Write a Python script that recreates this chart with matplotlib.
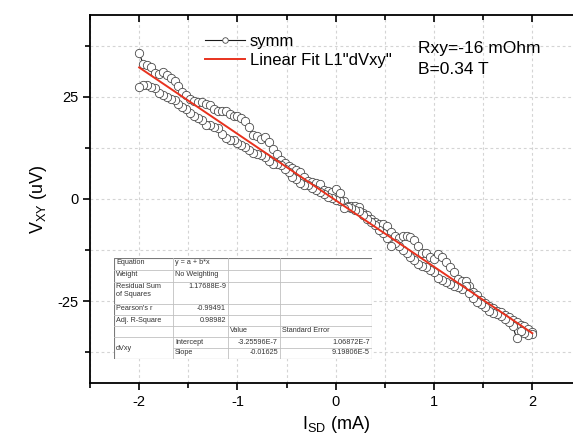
import numpy as np
import matplotlib
matplotlib.use('Agg')
import matplotlib.pyplot as plt
from matplotlib.ticker import MultipleLocator

plt.rcParams['font.family'] = ['Liberation Sans', 'DejaVu Sans']
plt.rcParams['axes.unicode_minus'] = False

# source-drain current sweep (mA)
current_ma = np.linspace(-2, 2, 101)

# symmetrized V_xy (uV), sweep going up in current
vxy_up = [35.8, 33.0, 32.7, 32.4, 30.8, 30.5, 31.1, 30.3, 29.7, 28.9,
          27.7, 26.2, 25.4, 24.4, 23.9, 23.7, 23.8, 23.3, 22.9, 21.9,
          21.5, 21.5, 21.5, 20.9, 20.4, 20.2, 19.8, 19.0, 17.5, 15.7,
          15.3, 14.7, 15.1, 13.9, 12.3, 11.0, 9.6, 8.9, 8.0, 7.6,
          7.1, 6.6, 5.3, 4.3, 4.1, 3.8, 3.7, 2.2, 2.0, 1.8,
          2.5, 1.5, -0.4, -1.7, -1.7, -1.8, -2.0, -3.4, -3.9, -4.9,
          -5.7, -6.2, -6.1, -6.7, -8.0, -9.0, -9.5, -9.0, -9.0, -9.3,
          -10.1, -11.4, -13.1, -13.1, -14.2, -14.6, -13.4, -14.1, -15.4, -16.6,
          -17.9, -19.5, -20.1, -20.1, -21.2, -22.7, -23.5, -24.6, -25.5, -26.1,
          -26.7, -27.4, -27.6, -28.3, -28.8, -29.6, -30.2, -30.9, -31.1, -31.7,
          -32.5]

# sweep coming back (listed in increasing current order)
vxy_down = [27.3, 27.9, 28.0, 27.4, 27.2, 25.9, 25.4, 24.9, 24.5, 24.2,
            23.3, 22.5, 22.1, 21.1, 20.3, 19.8, 19.4, 18.0, 18.0, 17.6,
            17.4, 16.0, 14.9, 14.4, 14.4, 13.7, 13.3, 12.6, 12.0, 11.3,
            11.1, 10.8, 10.2, 9.2, 8.6, 8.5, 8.3, 7.3, 6.7, 5.5,
            4.8, 4.0, 3.4, 3.5, 2.7, 2.3, 1.8, 1.2, 0.4, 0.3,
            -0.3, -0.5, -2.2, -2.0, -2.2, -2.6, -2.9, -3.8, -5.0, -5.6,
            -6.3, -7.5, -8.2, -9.6, -11.6, -10.7, -11.6, -12.5, -13.2, -14.2,
            -15.0, -16.0, -16.4, -16.7, -17.4, -17.8, -19.2, -19.8, -20.2, -20.9,
            -21.2, -21.6, -22.0, -21.3, -22.9, -24.2, -25.2, -25.7, -26.5, -27.3,
            -27.9, -28.2, -28.5, -29.4, -30.2, -31.1, -34.0, -32.3, -32.7, -33.3,
            -33.1]

# linear fit results (SI units, as in the Origin table)
fit_intercept = -3.25596e-7   # V
fit_slope = -0.01625          # V/A
fit_range = [-2, 2]

table_rows = [
    ['Equation', 'y = a + b*x', '', ''],
    ['Weight', 'No Weighting', '', ''],
    ['Residual Sum\nof Squares', '1.17688E-9', '', ''],
    ["Pearson's r", '-0.99491', '', ''],
    ['Adj. R-Square', '0.98982', '', ''],
    ['', '', 'Value', 'Standard Error'],
    ['dVxy', 'Intercept', '-3.25596E-7', '1.06872E-7'],
    ['', 'Slope', '-0.01625', '9.19806E-5'],
]

W, H = 573, 441
fig = plt.figure(figsize=(W / 100, H / 100), dpi=100)
ax = fig.add_axes([90 / W, 1 - 383 / H, 491.5 / W, 368 / H])

x_all = np.concatenate([current_ma, current_ma[::-1]])
y_all = np.concatenate([vxy_up, vxy_down[::-1]])
ax.plot(x_all, y_all, color='#1a1a1a', lw=0.8, marker='o', ms=6,
        mfc='white', mec='#4a4a4a', mew=0.6, label='symm', zorder=3)

xf = np.array(fit_range, dtype=float)
yf = (fit_intercept + fit_slope * xf * 1e-3) * 1e6
ax.plot(xf, yf, color='#e8321e', lw=1.4, label='Linear Fit L1"dVxy"', zorder=4)

ax.set_xlim(-2.5, 2.5)
ax.set_ylim(-45, 45)
ax.xaxis.set_major_locator(MultipleLocator(1))
ax.xaxis.set_minor_locator(MultipleLocator(0.5))
ax.yaxis.set_major_locator(MultipleLocator(25))
ax.yaxis.set_minor_locator(MultipleLocator(12.5))
ax.grid(True, which='both', color='#d4d4d4', ls=(0, (2.5, 2.5)), lw=0.8)
ax.set_axisbelow(True)

for s in ax.spines.values():
    s.set_linewidth(1.3)
ax.spines['right'].set_visible(False)
ax.tick_params(which='both', direction='out', width=1.2, labelsize=10.5, top=True)
ax.tick_params(which='major', length=5)
ax.tick_params(which='minor', length=3.5)
# top ticks point into the frame
for tk in ax.xaxis.get_major_ticks() + ax.xaxis.get_minor_ticks():
    tk.tick2line.set_marker(3)

ax.set_xlabel('I$_{\\mathregular{SD}}$ (mA)', fontsize=13, labelpad=4)
ax.set_ylabel('V$_{\\mathregular{XY}}$ (uV)', fontsize=13, labelpad=6)

leg = ax.legend(loc='upper left', bbox_to_anchor=(205 / W, 1 - 34 / H),
                bbox_transform=fig.transFigure, frameon=False, fontsize=12,
                handlelength=2.4, handletextpad=0.3, labelspacing=0.25,
                borderpad=0, borderaxespad=0, numpoints=1)
leg.get_lines()[0].set_markersize(4)

fig.text(418 / W, 1 - 48 / H, 'Rxy=-16 mOhm', fontsize=12.5, va='center')
fig.text(418 / W, 1 - 70 / H, 'B=0.34 T', fontsize=12.5, va='center')

# fit results table, drawn in pixel coordinates
tx = [114, 173, 228, 280, 372]
ty = [258, 270, 282, 304, 315, 326, 337, 348, 359]
tab = fig.add_axes([tx[0] / W, 1 - ty[-1] / H, (tx[-1] - tx[0]) / W, (ty[-1] - ty[0]) / H])
tab.set_xlim(tx[0], tx[-1])
tab.set_ylim(ty[-1], ty[0])
tab.axis('off')
tab.add_patch(plt.Rectangle((tx[0], ty[0]), tx[-1] - tx[0], ty[-1] - ty[0],
                            fc='white', ec='#7a7a7a', lw=0.8, zorder=1))
for i, yy in enumerate(ty[1:-1]):
    x0 = tx[1] if i == 6 else tx[0]
    tab.plot([x0, tx[-1]], [yy, yy], color='#c0c0c0', lw=0.6, zorder=2)
for xx in tx[1:-1]:
    tab.plot([xx, xx], [ty[0], ty[-1]], color='#c0c0c0', lw=0.6, zorder=2)

fs = 5.2
for r, row in enumerate(table_rows):
    top = ty[r]
    for c, txt in enumerate(row):
        if not txt:
            continue
        if c == 0:
            if txt == 'dVxy':
                tab.text(tx[0] + 2, 0.5 * (ty[6] + ty[8]) + 1, txt,
                         fontsize=fs, va='center', color='#333333')
            else:
                tab.text(tx[0] + 2, top + 1.5, txt, fontsize=fs, va='top',
                         color='#333333', linespacing=1.2)
            continue
        is_num = txt[0].isdigit() or txt[0] == '-'
        if is_num:
            tab.text(tx[c + 1] - 2, top + 1.5, txt, fontsize=fs, va='top',
                     ha='right', color='#333333')
        else:
            tab.text(tx[c] + 2, top + 1.5, txt, fontsize=fs, va='top',
                     color='#333333')

fig.savefig('out.png', dpi=100)
